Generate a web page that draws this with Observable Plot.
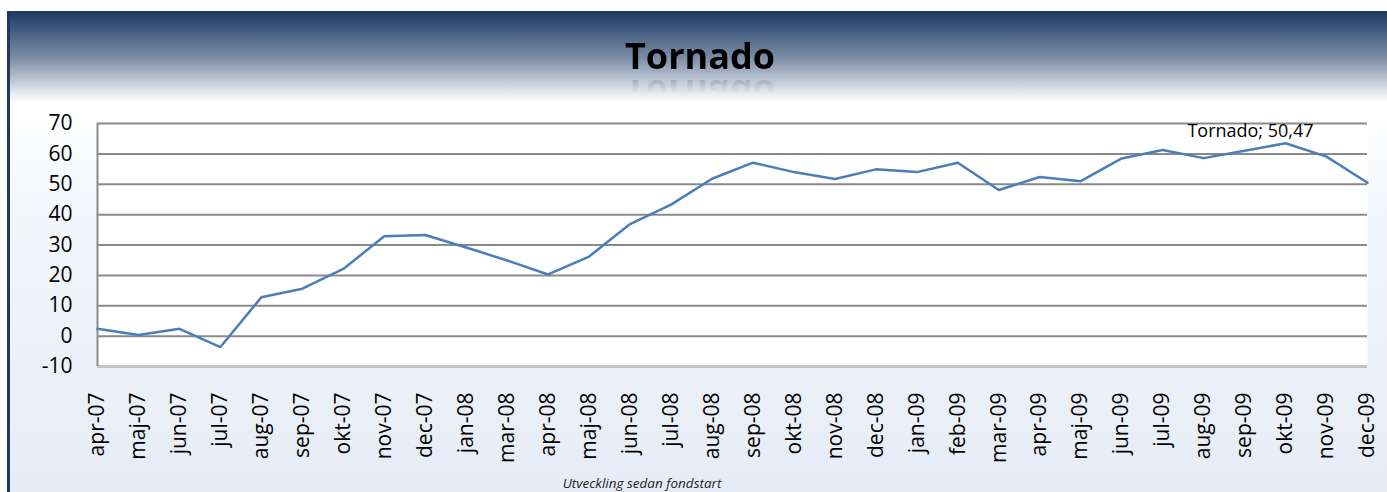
<!DOCTYPE html>
<html>
<head>
<meta charset="utf-8">
<script src="https://cdn.jsdelivr.net/npm/d3@7"></script>
<script src="https://cdn.jsdelivr.net/npm/@observablehq/plot@0.6"></script>
<style>
  html, body { margin: 0; padding: 0; width: 1387px; height: 492px; overflow: hidden; background: #ffffff; font-family: "Open Sans", sans-serif; }
  #frame { position: absolute; left: 7px; top: 11px; width: 1380px; height: 481px;
    background: linear-gradient(to bottom, #ffffff 0px, #ffffff 95px, #f3f6fb 200px, #e6ecf6 481px);
    border-left: 3px solid #1f3a62; box-sizing: border-box; }
  #header { position: absolute; left: 10px; top: 11px; width: 1377px; height: 92px;
    background: linear-gradient(to bottom, #1d3962 0%, #4a6284 25%, #7a8ba5 50%, #bcc5d3 75%, #eef0f4 92%, #ffffff 100%); }
  #title { position: absolute; left: 612px; width: 176px; top: 33px; text-align: center; font-family: "Open Sans", sans-serif; font-weight: 700; font-size: 36px; line-height: 46px; color: #000;
    -webkit-box-reflect: below -9px linear-gradient(to bottom, transparent 50%, rgba(255,255,255,0.22) 100%); }
  #chart { position: absolute; left: 0; top: 100px; }
  #caption { position: absolute; left: 0; width: 1284px; top: 475px; text-align: center; font-family: "Open Sans", sans-serif; font-style: italic; font-size: 13.5px; line-height: 16px; color: #222; }
</style>
</head>
<body>
<div id="frame"></div>
<div id="header"></div>
<div id="title">Tornado</div>
<div id="chart"></div>
<div id="caption">Utveckling sedan fondstart</div>
<script>
const months = ["apr-07","maj-07","jun-07","jul-07","aug-07","sep-07","okt-07","nov-07","dec-07",
  "jan-08","mar-08","apr-08","maj-08","jun-08","jul-08","aug-08","sep-08","okt-08","nov-08","dec-08",
  "jan-09","feb-09","mar-09","apr-09","maj-09","jun-09","jul-09","aug-09","sep-09","okt-09","nov-09","dec-09"];
const values = [2.4,0.4,2.4,-3.6,12.8,15.6,22.1,32.9,33.3,
  29.2,24.9,20.3,26.2,36.9,43.3,51.8,57.1,54.0,51.7,54.9,
  54.0,57.1,48.1,52.4,51.0,58.5,61.3,58.6,61.0,63.5,59.1,50.47];
const yTicks = [-10,0,10,20,30,40,50,60,70];
const seriesName = "Tornado";
const lastLabel = "Tornado; 50,47";

const data = months.map((m, i) => ({month: m, value: values[i]}));
const last = [data[data.length - 1]];

const chart = Plot.plot({
  width: 1387,
  height: 370,
  marginTop: 23,
  marginBottom: 104,
  marginLeft: 97,
  marginRight: 20,
  style: {fontFamily: "Open Sans, sans-serif", fontSize: "21px", color: "#000", background: "transparent", overflow: "visible"},
  x: {type: "point", domain: months, padding: 0},
  y: {domain: [-10, 70]},
  marks: [
    Plot.frame({fill: "white", stroke: "none"}),
    Plot.ruleY(yTicks, {stroke: "#8a8a8a", strokeWidth: 2}),
    Plot.ruleY([-10], {stroke: "#c4c4c4", strokeWidth: 2}),
    Plot.ruleX([months[0]], {stroke: "#8a8a8a", strokeWidth: 2}),
    Plot.axisY({ticks: yTicks, tickSize: 0, tickPadding: 25, label: null, fontSize: 21, tickFormat: d => String(d)}),
    Plot.axisX({tickRotate: -90, tickSize: 0, tickPadding: 26, label: null, fontSize: 21}),
    Plot.line(data, {x: "month", y: "value", stroke: "#4a7ebb", strokeWidth: 2.5}),
    Plot.text(last, {x: "month", y: "value", text: () => lastLabel, dx: -117, dy: -52, fontSize: 18, fill: "#000"})
  ]
});
document.getElementById("chart").appendChild(chart);
</script>
</body>
</html>
